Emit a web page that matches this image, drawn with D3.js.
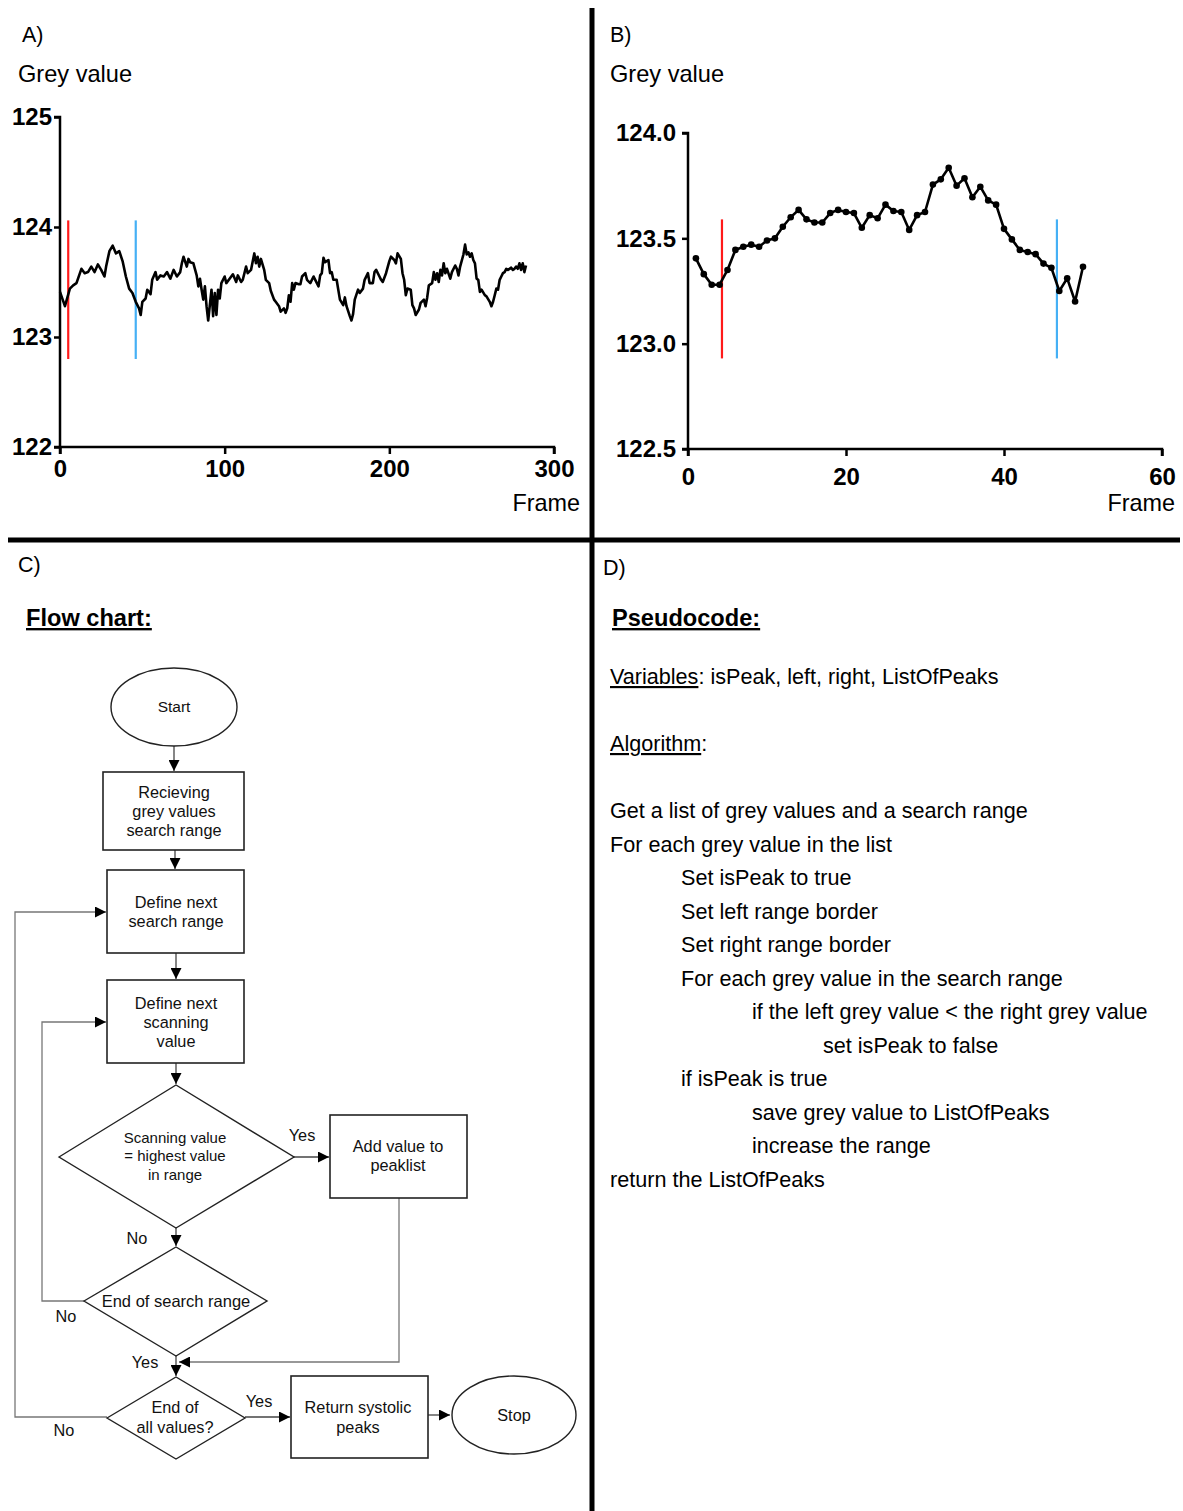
<!DOCTYPE html>
<html><head><meta charset="utf-8">
<script src="https://cdn.jsdelivr.net/npm/d3@7"></script>
<style>body{margin:0;background:#fff}svg{display:block;font-family:"Liberation Sans",Arial,sans-serif}</style>
</head><body>
<svg id="c" width="1183" height="1511"></svg>
<script>
// ---------- Panel A data (frame, grey value) ----------
const framesA = [0,3,6,8,10,13,15,17,19,21,23,25,27,28,30,32,34,36,38,40,42,44,46,48,49,50,52,53,55,56,58,59,61,63,65,67,69,71,73,74,75,77,78,79,81,83,84,85,86,87,88,89,90,92,93,94,95,96,97,98,100,101,103,105,107,108,110,111,113,114,116,118,119,120,121,122,124,125,127,128,130,131,133,134,136,137,138,139,140,141,142,143,145,146,147,149,150,152,154,155,157,158,159,160,161,163,164,165,166,168,169,170,172,173,174,176,177,178,179,181,182,184,185,187,188,190,191,192,194,195,196,198,200,201,203,204,205,207,208,209,210,211,213,214,215,216,218,219,221,222,223,224,226,227,228,229,230,231,232,233,234,235,237,238,240,241,242,243,245,246,247,248,249,250,251,252,253,254,255,256,258,259,261,262,263,264,265,266,267,268,269,270,271,272,273,274,275,276,277,278,279,280,281,282,283];
const valuesA = [123.41,123.28,123.44,123.47,123.49,123.62,123.58,123.59,123.64,123.59,123.66,123.61,123.55,123.64,123.78,123.83,123.76,123.78,123.69,123.55,123.44,123.40,123.32,123.26,123.20,123.32,123.35,123.43,123.39,123.52,123.59,123.52,123.56,123.55,123.59,123.53,123.61,123.55,123.59,123.67,123.73,123.64,123.71,123.68,123.67,123.56,123.46,123.53,123.43,123.34,123.46,123.28,123.15,123.43,123.19,123.40,123.20,123.43,123.35,123.49,123.55,123.49,123.53,123.57,123.50,123.56,123.50,123.52,123.64,123.58,123.61,123.76,123.67,123.73,123.64,123.71,123.61,123.52,123.49,123.42,123.34,123.32,123.28,123.23,123.26,123.22,123.26,123.38,123.32,123.49,123.43,123.49,123.48,123.48,123.55,123.58,123.52,123.49,123.55,123.52,123.46,123.56,123.58,123.72,123.68,123.70,123.58,123.59,123.52,123.52,123.43,123.34,123.29,123.36,123.28,123.19,123.15,123.21,123.34,123.43,123.40,123.44,123.52,123.58,123.49,123.49,123.59,123.61,123.55,123.52,123.50,123.58,123.69,123.73,123.70,123.67,123.76,123.71,123.58,123.52,123.38,123.44,123.43,123.29,123.26,123.20,123.25,123.31,123.34,123.28,123.36,123.47,123.49,123.59,123.52,123.58,123.50,123.61,123.56,123.67,123.58,123.62,123.53,123.59,123.65,123.62,123.56,123.64,123.75,123.84,123.75,123.77,123.73,123.76,123.70,123.67,123.53,123.52,123.41,123.43,123.38,123.37,123.32,123.28,123.32,123.38,123.44,123.43,123.52,123.55,123.58,123.59,123.62,123.61,123.62,123.63,123.61,123.62,123.64,123.62,123.67,123.61,123.67,123.59,123.65,123.61,123.67];
const markersA = [5, 46];            // red, blue frame markers
const markerRangeA = [124.06, 122.8];
const xTicksA = [0,100,200,300];
const yTicksA = [122,123,124,125];

// ---------- Panel B data ----------
const framesB = d3.range(1, 51);
const valuesB = [123.405,123.33,123.28,123.28,123.35,123.445,123.46,123.47,123.46,123.49,123.50,123.555,123.60,123.635,123.59,123.575,123.575,123.62,123.635,123.625,123.62,123.55,123.61,123.595,123.66,123.63,123.625,123.54,123.61,123.625,123.755,123.78,123.835,123.75,123.785,123.695,123.745,123.68,123.66,123.545,123.495,123.445,123.435,123.425,123.38,123.36,123.25,123.31,123.20,123.365];
const markersB = [4.3, 46.7];
const markerRangeB = [123.59, 122.93];
const xTicksB = [0,20,40,60];
const yTicksB = [122.5,123.0,123.5,124.0];

// ---------- Text content ----------
const pseudoLines = [
  {t:"Get a list of grey values and a search range", i:0},
  {t:"For each grey value in the list", i:0},
  {t:"Set isPeak to true", i:1},
  {t:"Set left range border", i:1},
  {t:"Set right range border", i:1},
  {t:"For each grey value in the search range", i:1},
  {t:"if the left grey value < the right grey value", i:2},
  {t:"set isPeak to false", i:3},
  {t:"if isPeak is true", i:1},
  {t:"save grey value to ListOfPeaks", i:2},
  {t:"increase the range", i:2},
  {t:"return the ListOfPeaks", i:0}
];

const svg = d3.select("#c");
const F = '"Liberation Sans",Arial,sans-serif';

function txt(g, x, y, s, size, opts={}) {
  return g.append("text").attr("x", x).attr("y", y).text(s)
    .attr("font-size", size).attr("font-family", F)
    .attr("font-weight", opts.bold ? "bold" : "normal")
    .attr("text-anchor", opts.anchor || "start")
    .attr("fill", opts.fill || "#000")
    .attr("text-decoration", opts.underline ? "underline" : null);
}

// ---------- Dividers ----------
svg.append("line").attr("x1",592).attr("x2",592).attr("y1",8).attr("y2",1511).attr("stroke","#000").attr("stroke-width",5);
svg.append("line").attr("x1",8).attr("x2",1180).attr("y1",540).attr("y2",540).attr("stroke","#000").attr("stroke-width",5);

// ---------- Chart panel builder ----------
function panel(cfg) {
  const g = svg.append("g");
  const x = d3.scaleLinear().domain(cfg.xDomain).range(cfg.xRange);
  const y = d3.scaleLinear().domain(cfg.yDomain).range(cfg.yRange);
  txt(g, cfg.labelPos[0], cfg.labelPos[1], cfg.label, 21.5);
  txt(g, cfg.titlePos[0], cfg.titlePos[1], "Grey value", 23.6);
  txt(g, cfg.framePos[0], cfg.framePos[1], "Frame", 23.4, {anchor:"end"});

  const ya = g.append("g").attr("transform", `translate(${cfg.xRange[0]},0)`)
    .call(d3.axisLeft(y).tickValues(cfg.yTicks).tickSize(6).tickPadding(cfg.yPad).tickFormat(cfg.yFmt));
  const xa = g.append("g").attr("transform", `translate(0,${cfg.yRange[0]})`)
    .call(d3.axisBottom(x).tickValues(cfg.xTicks).tickSize(7).tickPadding(cfg.xPad).tickFormat(d3.format("d")));
  [ya, xa].forEach(a => {
    a.select(".domain").attr("stroke","#000").attr("stroke-width",2.5);
    a.selectAll(".tick line").attr("stroke","#000").attr("stroke-width",2.5);
    a.selectAll("text").attr("font-size",24).attr("font-weight","bold").attr("font-family",F).attr("fill","#000");
  });
  ya.select(".domain").attr("d", `M-6,${cfg.yRange[1]}H0V${cfg.yRange[0]}H-6`);
  xa.select(".domain").attr("d", `M${cfg.xRange[0]},7V0H${cfg.xRange[1]}V7`);

  const colors = ["#ff1a1a", "#45b0f5"];
  cfg.markers.forEach((m, i) => {
    g.append("line").attr("x1", x(m)).attr("x2", x(m))
      .attr("y1", y(cfg.markerRange[0])).attr("y2", y(cfg.markerRange[1]))
      .attr("stroke", colors[i]).attr("stroke-width", 2.2);
  });
  const data = cfg.frames.map((f, i) => [f, cfg.values[i]]);
  g.append("path").datum(data)
    .attr("d", d3.line().x(d => x(d[0])).y(d => y(d[1])))
    .attr("fill","none").attr("stroke","#000").attr("stroke-width",2.6).attr("stroke-linejoin","round");
  if (cfg.dots) {
    g.selectAll("circle.pt").data(data).join("circle").attr("class","pt")
      .attr("cx", d => x(d[0])).attr("cy", d => y(d[1])).attr("r", 3.3).attr("fill","#000");
  }
}

panel({
  label:"A)", labelPos:[22,42], titlePos:[18,82], framePos:[580,511],
  xDomain:[0,300], xRange:[60,554], yDomain:[122,125], yRange:[447,117],
  xTicks:xTicksA, yTicks:yTicksA, yFmt:d3.format("d"), yPad:2, xPad:6,
  frames:framesA, values:valuesA, markers:markersA, markerRange:markerRangeA, dots:false
});
panel({
  label:"B)", labelPos:[610,42], titlePos:[610,82], framePos:[1175,511],
  xDomain:[0,60], xRange:[688,1162], yDomain:[122.5,124], yRange:[449,133],
  xTicks:xTicksB, yTicks:yTicksB, yFmt:d3.format(".1f"), yPad:6, xPad:12,
  frames:framesB, values:valuesB, markers:markersB, markerRange:markerRangeB, dots:true
});

// ---------- Panel C: flow chart ----------
const fc = svg.append("g");
txt(fc, 18, 572, "C)", 21.5);
txt(fc, 26, 626, "Flow chart:", 23.6, {bold:true, underline:true});

const defs = svg.append("defs");
defs.append("marker").attr("id","arr").attr("viewBox","0 0 10 10").attr("refX",10).attr("refY",5)
  .attr("markerWidth",11).attr("markerHeight",11).attr("markerUnits","userSpaceOnUse").attr("orient","auto")
  .append("path").attr("d","M0,0L10,5L0,10Z").attr("fill","#000");

const stroke = "#222", loopStroke = "#777";
function box(x0, y0, x1, y1) {
  fc.append("rect").attr("x",x0).attr("y",y0).attr("width",x1-x0).attr("height",y1-y0)
    .attr("fill","#fff").attr("stroke",stroke).attr("stroke-width",1.6);
}
function ell(cx, cy, rx, ry) {
  fc.append("ellipse").attr("cx",cx).attr("cy",cy).attr("rx",rx).attr("ry",ry)
    .attr("fill","#fff").attr("stroke",stroke).attr("stroke-width",1.4);
}
function diamond(cx, cy, l, r, t, b) {
  fc.append("path").attr("d",`M${l},${cy}L${cx},${t}L${r},${cy}L${cx},${b}Z`)
    .attr("fill","#fff").attr("stroke",stroke).attr("stroke-width",1.4);
}
function lines(cx, cy, arr, size, gap) {
  const n = arr.length;
  arr.forEach((s, i) => {
    const yy = cy + (i - (n-1)/2) * gap + size*0.35;
    txt(fc, cx, yy, s, size, {anchor:"middle", fill:"#111"});
  });
}
function arrow(pts, col, head=true) {
  fc.append("path").attr("d", d3.line()(pts)).attr("fill","none")
    .attr("stroke", col || "#444").attr("stroke-width",1.3)
    .attr("marker-end", head ? "url(#arr)" : null);
}

// connectors (drawn first)
arrow([[174,746],[174,771]]);
arrow([[175,850],[175,869]]);
arrow([[176,953],[176,979]]);
arrow([[176,1063],[176,1084]]);
arrow([[294,1157],[329,1157]]);
arrow([[176,1228],[176,1246]]);
arrow([[84,1301],[42,1301],[42,1022],[106,1022]], loopStroke);
arrow([[399,1198],[399,1362],[179,1362]], loopStroke);
arrow([[176,1356],[176,1376]]);
arrow([[245,1417],[290,1417]]);
arrow([[428,1415],[450,1415]]);
arrow([[107,1417],[15,1417],[15,912],[106,912]], loopStroke);

ell(174,707,63,39); lines(174,707,["Start"],15.5,18);
box(103,772,244,850); lines(174,811,["Recieving","grey  values","search range"],16.3,19);
box(107,870,244,953); lines(176,912,["Define next","search range"],16.3,18.5);
box(107,980,244,1063); lines(176,1022,["Define next","scanning","value"],16.3,19);
diamond(176,1157,59,294,1085,1228); lines(175,1156,["Scanning  value","= highest value","in range"],15,18.5);
box(330,1115,467,1198); lines(398,1156,["Add value to","peaklist"],16.3,19.5);
diamond(176,1301,84,267,1247,1356); lines(176,1301,["End of search range"],16.5,18);
diamond(176,1418,107,245,1377,1459); lines(175,1417,["End of","all values?"],16.3,20);
box(291,1376,428,1458); lines(358,1417,["Return systolic","peaks"],16.3,20);
ell(514,1415,62,39); lines(514,1415,["Stop"],16.3,18);

[["Yes",302,1141],["No",137,1244],["No",66,1322],["Yes",145,1368],["Yes",259,1407],["No",64,1436]]
  .forEach(d => txt(fc, d[1], d[2], d[0], 16.3, {anchor:"middle", fill:"#111"}));

// ---------- Panel D: pseudocode ----------
const pd = svg.append("g");
txt(pd, 603, 575, "D)", 21.5);
txt(pd, 612, 626, "Pseudocode:", 23.6, {bold:true, underline:true});
const v = pd.append("text").attr("x",610).attr("y",684).attr("font-size",21.6).attr("font-family",F);
v.append("tspan").attr("text-decoration","underline").text("Variables");
v.append("tspan").text(": isPeak, left, right, ListOfPeaks");
const a = pd.append("text").attr("x",610).attr("y",751).attr("font-size",21.6).attr("font-family",F);
a.append("tspan").attr("text-decoration","underline").text("Algorithm");
a.append("tspan").text(":");
pseudoLines.forEach((d, i) => {
  txt(pd, 610 + d.i*71, 818 + i*33.5, d.t, 21.6);
});
</script>
</body></html>
